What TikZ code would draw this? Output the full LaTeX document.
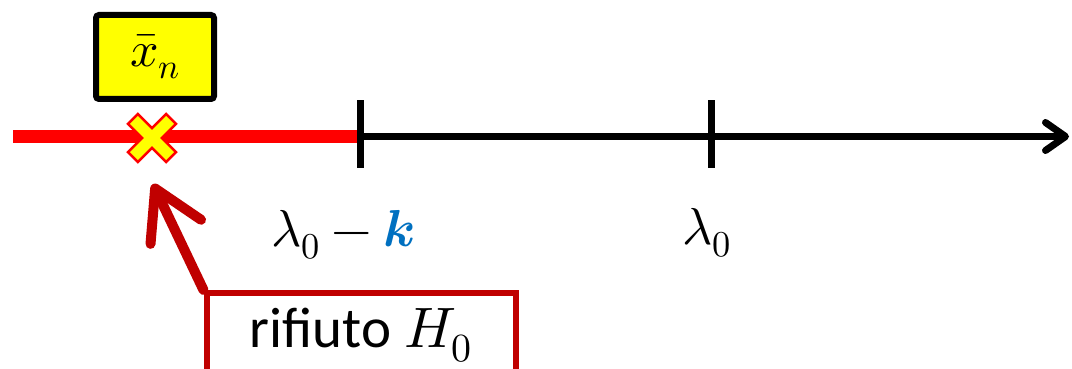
\documentclass[tikz,border=0pt]{standalone}
\usepackage{fontspec}
\usepackage{unicode-math}
\setmainfont{Carlito}
\setmathfont{Latin Modern Math}
\usetikzlibrary{arrows.meta}
\definecolor{myred}{HTML}{FF0000}
\definecolor{darkred}{HTML}{C00000}
\definecolor{myyellow}{HTML}{FFFF00}
\definecolor{myblue}{HTML}{0070C0}

\begin{document}
\begin{tikzpicture}[x=1pt, y=-1pt,
  tick/.style={line width=7pt},
  mathlbl/.style={font=\fontsize{52}{60}\selectfont, anchor=base},
  xbox/.style={draw, line width=6pt, fill=myyellow, rounded corners=3pt,
    minimum width=118pt, minimum height=84pt, font=\fontsize{50}{60}\selectfont},
  rejbox/.style={draw=darkred, line width=6pt, minimum width=309pt,
    minimum height=84pt, anchor=north, font=\fontsize{57}{66}\selectfont}]
  \useasboundingbox (0,0) rectangle (1072,369);
  \clip (0,0) rectangle (1072,369);

  \coordinate (L) at (13,136.5);
  \coordinate (K) at (360,136.5);
  \coordinate (Z) at (711,136.5);
  \coordinate (R) at (1069,136.5);
  \coordinate (X) at (152,138);

  % axis
  \draw[line width=7pt, -{Straight Barb[length=20pt, width=28pt, line cap=round, line join=round]}] (K) -- (R);
  \draw[myred, line width=13pt] (L) -- (K);
  \draw[tick] ([yshift=36pt]K) -- ([yshift=-31pt]K);
  \draw[tick] ([yshift=36pt]Z) -- ([yshift=-31pt]Z);

  % cross on the axis
  \begin{scope}[shift={(X)}, rotate=45]
    \filldraw[fill=myyellow, draw=myred, line width=2.5pt]
      (27,7) -- (7,7) -- (7,27) -- (-7,27) -- (-7,7) -- (-27,7) -- (-27,-7)
      -- (-7,-7) -- (-7,-27) -- (7,-27) -- (7,-7) -- (27,-7) -- cycle;
  \end{scope}

  \node[xbox] (xn) at (155,57) {$\bar{x}_n$};

  \node[mathlbl] (lk) at (343,246) {$\lambda_0-\textcolor{myblue}{\symbfit{k}}$};
  \node[mathlbl] (l0) at (707,244) {$\lambda_0$};

  \node[rejbox] (rej) at (361,290) {rifiuto $H_0$};
  \coordinate (hit) at (153,184);
  \draw[darkred, line width=10pt, line cap=round,
    -{Straight Barb[length=48pt, width=56pt, line cap=round, line join=round]}]
    (rej.north west) -- (hit);
\end{tikzpicture}
\end{document}
